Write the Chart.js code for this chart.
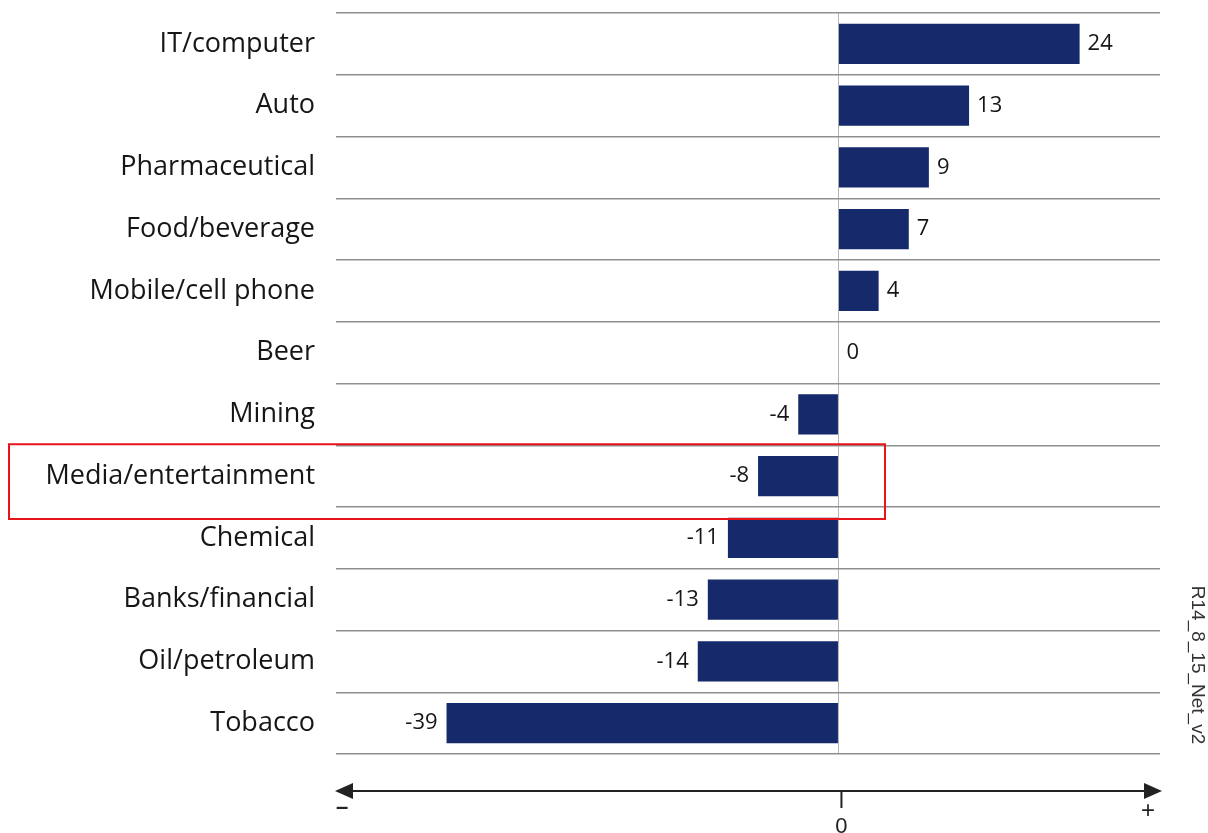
<!DOCTYPE html>
<html>
<head>
<meta charset="utf-8">
<script src="https://cdn.jsdelivr.net/npm/chart.js@4"></script>
<style>
  html, body { margin: 0; padding: 0; background: #fff; }
  #wrap { width: 1208px; height: 833px; }
</style>
</head>
<body>
<div id="wrap"><canvas id="netChart"></canvas></div>
<script>
// Net score by industry
const industries = ['IT/computer', 'Auto', 'Pharmaceutical', 'Food/beverage', 'Mobile/cell phone', 'Beer',
    'Mining', 'Media/entertainment', 'Chemical', 'Banks/financial', 'Oil/petroleum', 'Tobacco'];
const netScores = [24, 13, 9, 7, 4, 0, -4, -8, -11, -13, -14, -39];
const highlighted = 'Media/entertainment';
const figureCode = 'R14_8_15_Net_v2';

const BAR_COLOR = '#15296b';
const TEXT_COLOR = '#161616';
const FONT = '"Open Sans", sans-serif';

// value labels next to each bar end
const valueLabels = {
    id: 'valueLabels',
    afterDatasetsDraw(chart) {
        const ctx = chart.ctx;
        const meta = chart.getDatasetMeta(0);
        ctx.save();
        ctx.font = '22px ' + FONT;
        ctx.fillStyle = TEXT_COLOR;
        ctx.textBaseline = 'middle';
        meta.data.forEach((bar, i) => {
            const v = netScores[i];
            if (v < 0) {
                ctx.textAlign = 'right';
                ctx.fillText(String(v), bar.x - 9, bar.y);
            } else {
                ctx.textAlign = 'left';
                ctx.fillText(String(v), bar.x + 8, bar.y);
            }
        });
        ctx.restore();
    }
};

// bottom direction arrow, highlight box and figure code
const extras = {
    id: 'extras',
    afterDraw(chart) {
        const ctx = chart.ctx;
        const area = chart.chartArea;
        const xs = chart.scales.x;
        const ys = chart.scales.y;
        const x0 = xs.getPixelForValue(0);
        const ay = 791;

        ctx.save();
        // double arrow
        ctx.strokeStyle = '#222';
        ctx.fillStyle = '#222';
        ctx.lineWidth = 2;
        ctx.beginPath();
        ctx.moveTo(area.left + 10, ay);
        ctx.lineTo(area.right - 8, ay);
        ctx.stroke();
        ctx.beginPath();
        ctx.moveTo(area.left - 1, ay);
        ctx.lineTo(area.left + 17, ay - 8);
        ctx.lineTo(area.left + 17, ay + 8);
        ctx.closePath();
        ctx.fill();
        ctx.beginPath();
        ctx.moveTo(area.right + 2, ay);
        ctx.lineTo(area.right - 16, ay - 8);
        ctx.lineTo(area.right - 16, ay + 8);
        ctx.closePath();
        ctx.fill();
        // zero tick
        ctx.beginPath();
        ctx.moveTo(x0 + 3, ay);
        ctx.lineTo(x0 + 3, ay + 17);
        ctx.stroke();

        ctx.font = '22px "Liberation Sans", Arial, sans-serif';
        ctx.textAlign = 'center';
        ctx.textBaseline = 'top';
        ctx.fillText('0', x0 + 3, 816);
        ctx.font = 'bold 22px "Liberation Sans", Arial, sans-serif';
        ctx.fillText('–', area.left + 6, 797);
        ctx.font = '24px "Liberation Sans", Arial, sans-serif';
        ctx.fillText('+', area.right - 12, 799);

        // highlight box around one row
        const hi = industries.indexOf(highlighted);
        const half = (ys.getPixelForValue(1) - ys.getPixelForValue(0)) / 2;
        const cy = ys.getPixelForValue(hi);
        ctx.strokeStyle = '#e8141b';
        ctx.lineWidth = 2;
        ctx.strokeRect(9, cy - half - 1, 876, half * 2 + 13);

        // figure code, rotated
        ctx.translate(1197, 665);
        ctx.rotate(Math.PI / 2);
        ctx.fillStyle = '#333';
        ctx.font = '19px "Liberation Sans", Arial, sans-serif';
        ctx.textAlign = 'center';
        ctx.textBaseline = 'middle';
        ctx.fillText(figureCode, 0, 0);
        ctx.restore();
    }
};

new Chart(document.getElementById('netChart'), {
    type: 'bar',
    data: {
        labels: industries,
        datasets: [{
            data: netScores,
            backgroundColor: BAR_COLOR,
            barPercentage: 0.65,
            categoryPercentage: 1
        }]
    },
    options: {
        indexAxis: 'y',
        responsive: true,
        maintainAspectRatio: false,
        animation: false,
        layout: { padding: { top: 13, right: 48, bottom: 79, left: 0 } },
        plugins: {
            legend: { display: false },
            tooltip: { enabled: false }
        },
        scales: {
            x: {
                min: -50,
                max: 32,
                border: { display: false },
                ticks: { display: false, stepSize: 10 },
                grid: {
                    drawTicks: false,
                    lineWidth: 1,
                    color: (c) => (c.tick && c.tick.value === 0) ? '#b5b5b5' : 'rgba(0,0,0,0)'
                }
            },
            y: {
                border: { display: false },
                afterFit: (scale) => {
                    scale.width = 336;
                    scale.paddingTop = 0;
                    scale.paddingBottom = 0;
                },
                ticks: {
                    padding: 21,
                    color: TEXT_COLOR,
                    font: { family: '"Open Sans", sans-serif', size: 27 }
                },
                grid: {
                    offset: true,
                    drawTicks: false,
                    color: '#8f8f8f',
                    lineWidth: 1.5
                }
            }
        }
    },
    plugins: [valueLabels, extras]
});
</script>
</body>
</html>
